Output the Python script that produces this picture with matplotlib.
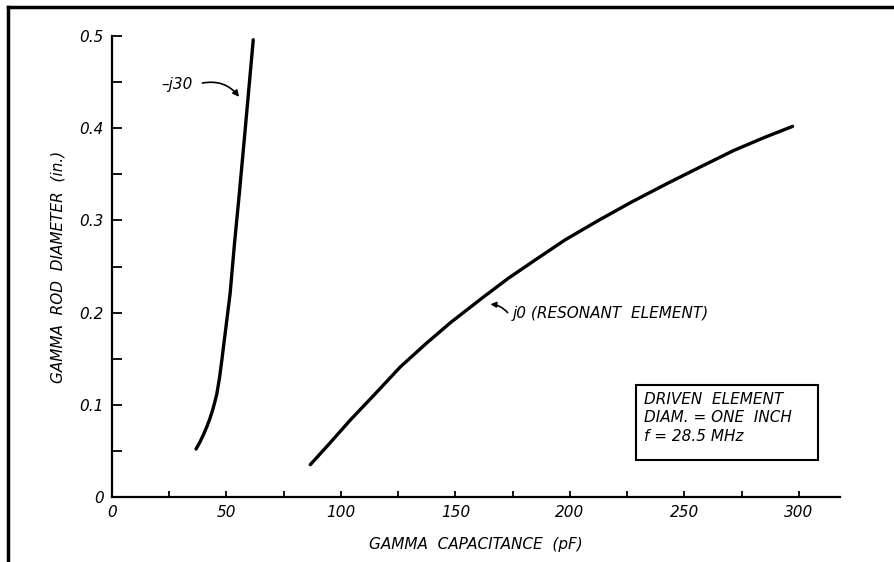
import matplotlib
matplotlib.use('Agg')
import matplotlib.pyplot as plt
from matplotlib.lines import Line2D
from matplotlib.patches import Rectangle

# -j30 curve (gamma capacitance pF, rod diameter in.)
j30_cap = [36.7, 38.5, 40.0, 41.4, 42.6, 43.8, 44.8, 45.8, 47.0, 48.0, 49.8, 51.6,
           53.5, 55.6, 57.6, 59.6, 61.7]
j30_dia = [0.052, 0.060, 0.068, 0.076, 0.084, 0.093, 0.102, 0.112, 0.130, 0.149, 0.185, 0.221,
           0.275, 0.329, 0.383, 0.438, 0.496]

# j0 curve (resonant element)
j0_cap = [86.6, 95.0, 104.1, 115.0, 125.9, 137.0, 147.8, 162.3, 173.0, 184.2, 198.0,
          212.5, 227.0, 242.5, 257.0, 271.7, 285.0, 297.3]
j0_dia = [0.035, 0.058, 0.0835, 0.112, 0.141, 0.166, 0.189, 0.217, 0.237, 0.256, 0.279,
          0.300, 0.320, 0.340, 0.358, 0.376, 0.390, 0.402]

x_ticks = [0, 50, 100, 150, 200, 250, 300]
x_labels = ['0', '50', '100', '150', '200', '250', '300']
y_ticks = [0, 0.1, 0.2, 0.3, 0.4, 0.5]
y_labels = ['0', '0.1', '0.2', '0.3', '0.4', '0.5']

font = dict(family='DejaVu Sans', style='italic')
fs = 11

fig = plt.figure(figsize=(8.94, 5.62), dpi=100)
ax = fig.add_axes([0.1253, 0.1157, 0.8143, 0.8202])

ax.plot(j30_cap, j30_dia, color='black', linewidth=2.4, solid_capstyle='round', solid_joinstyle='round')
ax.plot(j0_cap, j0_dia, color='black', linewidth=2.4, solid_capstyle='round', solid_joinstyle='round')

ax.set_xlim(0, 318)
ax.set_ylim(0, 0.5)
for s in ['top', 'right']:
    ax.spines[s].set_visible(False)
for s in ['left', 'bottom']:
    ax.spines[s].set_linewidth(1.6)

ax.set_xticks(x_ticks)
ax.set_xticklabels(x_labels, fontsize=fs, **font)
ax.set_yticks(y_ticks)
ax.set_yticklabels(y_labels, fontsize=fs, **font)
ax.set_xticks([25, 75, 125, 175, 225, 275], minor=True)
ax.set_yticks([0.05, 0.15, 0.25, 0.35, 0.45], minor=True)
ax.tick_params(axis='x', which='both', direction='in', length=4, width=1.3, pad=6)
ax.tick_params(axis='y', which='both', direction='in', length=7, width=1.3, pad=6)

ax.set_xlabel('GAMMA  CAPACITANCE  (pF)', fontsize=fs, labelpad=12, **font)
ax.set_ylabel('GAMMA  ROD  DIAMETER  (in.)', fontsize=fs, labelpad=10, **font)

# -j30 label with curved arrow
ax.text(28.5, 0.447, '\u2013j30', fontsize=fs, va='center', ha='center', **font)
ax.annotate('', xy=(55.5, 0.434), xytext=(39.5, 0.449),
            arrowprops=dict(arrowstyle='-|>', color='black', lw=1.2,
                            connectionstyle='arc3,rad=-0.3', shrinkA=0, shrinkB=0,
                            mutation_scale=9))

# j0 label with short curved arrow
ax.text(175.0, 0.199, 'j0 (RESONANT  ELEMENT)', fontsize=fs, va='center', ha='left', **font)
ax.annotate('', xy=(165.3, 0.209), xytext=(172.8, 0.200),
            arrowprops=dict(arrowstyle='-|>', color='black', lw=1.2,
                            connectionstyle='arc3,rad=0.2', shrinkA=0, shrinkB=0,
                            mutation_scale=8))

ax.add_patch(Rectangle((228.7, 0.040), 79.6, 0.0815, fill=False, edgecolor='black', linewidth=1.5))
ax.text(232.5, 0.114, 'DRIVEN  ELEMENT\nDIAM. = ONE  INCH\nf = 28.5 MHz',
        fontsize=fs, va='top', ha='left', linespacing=1.3, **font)

# scanned page frame
fig.add_artist(Line2D([0.009, 0.009], [0.0, 0.988], color='black', linewidth=2.5))
fig.add_artist(Line2D([0.009, 1.0], [0.988, 0.988], color='black', linewidth=2.5))

fig.savefig('out.png', dpi=100)
